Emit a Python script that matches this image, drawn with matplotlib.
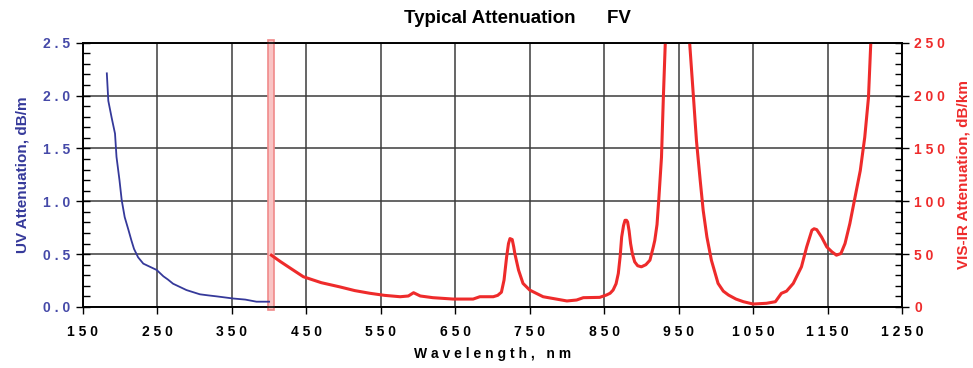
import matplotlib.pyplot as plt
from matplotlib.ticker import MultipleLocator, FixedLocator, FuncFormatter

plt.rcParams['font.family'] = ['Liberation Sans', 'DejaVu Sans']

# UV part (dB/m, left axis)
uv_wl = [182, 183, 184, 188.5, 193, 195, 199, 202, 206, 211, 215, 218.5, 224, 231,
         240, 249, 258, 264, 271, 280, 289, 298, 307, 318, 330, 352, 368, 383, 400]
uv_att = [2.21, 2.08, 1.95, 1.79, 1.64, 1.42, 1.20, 1.01, 0.85, 0.73, 0.63, 0.55, 0.47, 0.41,
          0.38, 0.35, 0.29, 0.26, 0.22, 0.19, 0.16, 0.14, 0.12, 0.11, 0.10, 0.08, 0.07, 0.05, 0.05]

# VIS-IR part (dB/km, right axis)
ir_wl = [403, 415, 430, 446, 470, 495, 515, 535, 555, 576, 587, 594, 603, 620, 647,
         674, 683, 701, 707, 712, 715.5, 719, 721.5, 723.5, 726.5, 728.5, 730, 735,
         741, 750, 768, 800, 813, 822, 844, 853, 858, 862, 866, 869, 871.5, 873.5,
         876, 878, 880, 881.5, 883.5, 885.5, 888, 891, 895, 900, 906, 911.5, 916,
         918, 921, 923, 925, 927, 929.5, 932, 934, 963, 965, 970, 974, 979, 983,
         988, 994, 1003, 1010, 1017, 1027, 1037, 1050, 1068, 1080, 1088, 1095,
         1104, 1115, 1122, 1129, 1132, 1135.5, 1142, 1149, 1156, 1162, 1168, 1173.5,
         1180, 1187, 1194, 1200, 1205, 1208, 1210]
ir_att = [49, 43, 36, 28.6, 23, 19, 15.5, 13, 11, 9.7, 10.4, 13.5, 10.4, 8.8, 7.5,
          7.5, 9.7, 9.7, 11, 14, 25.4, 47.4, 60, 64.7, 63.8, 57, 50.6, 34.9,
          22.3, 16, 9.7, 5.7, 6.6, 8.8, 9.1, 11.3, 13, 16, 22, 31.7, 48, 66.2,
          77, 82, 82, 80.4, 72, 60, 50, 42.7, 39, 38, 40, 44.3, 56.8,
          63, 78, 97.7, 119.7, 141.6, 198, 248, 275, 275, 248, 198, 157, 119.7, 91.4,
          66.2, 44.3, 22.3, 15, 11.3, 7.5, 5, 2.8, 3.5, 5, 12.9, 15,
          22.3, 38, 56.8, 72.6, 74, 73.2, 66.2, 56.8, 52.1, 49, 50.6, 60,
          78.9, 104, 129, 160.5, 198, 248, 270]

x_ticks = [150, 250, 350, 450, 550, 650, 750, 850, 950, 1050, 1150, 1250]

blue = '#35399a'
red = '#ee2b2b'


def spaced(v, fmt):
    return ' '.join(fmt.format(v))


fig = plt.figure(figsize=(9.73, 3.68), dpi=100)
ax = fig.add_axes([0.0853, 0.1658, 0.8417, 0.7182])
ax2 = ax.twinx()

ax.set_xlim(150, 1250)
ax.set_ylim(0, 2.5)
ax2.set_ylim(0, 250)

ax.xaxis.set_major_locator(FixedLocator(x_ticks))
ax.yaxis.set_major_locator(MultipleLocator(0.5))
ax.yaxis.set_minor_locator(MultipleLocator(0.1))
ax2.yaxis.set_major_locator(MultipleLocator(50))
ax2.yaxis.set_minor_locator(MultipleLocator(10))
ax.grid(True, which='major', color='#3c3c3c', linewidth=1.1)

ax.xaxis.set_major_formatter(FuncFormatter(lambda v, p: spaced(v, '{:.0f}')))
ax.yaxis.set_major_formatter(FuncFormatter(lambda v, p: spaced(v, '{:.1f}')))
ax2.yaxis.set_major_formatter(FuncFormatter(lambda v, p: spaced(v, '{:.0f}')))

ax.tick_params(axis='x', direction='out', length=5, width=1, labelsize=10, pad=8)
ax.tick_params(axis='y', which='major', direction='inout', length=10, width=1,
               labelsize=10, labelcolor='#4549a8', pad=4)
ax.tick_params(axis='y', which='minor', direction='in', length=5, width=1)
ax2.tick_params(axis='y', which='major', direction='inout', length=10, width=1,
                labelsize=10, labelcolor=red, pad=4)
ax2.tick_params(axis='y', which='minor', direction='in', length=5, width=1)
for lab in ax.get_xticklabels() + ax.get_yticklabels() + ax2.get_yticklabels():
    lab.set_fontweight('bold')

for a in (ax, ax2):
    for s in a.spines.values():
        s.set_color('black')
        s.set_linewidth(1.2)

# marker band at the UV / VIS-IR boundary
ax.axvspan(399, 406, ymin=-0.01, ymax=1.01, facecolor='#f9c4c4',
           edgecolor='#f08a8a', linewidth=1.2, clip_on=False, zorder=3)

ax.plot(uv_wl, uv_att, color=blue, linewidth=1.3, zorder=4)
ax2.plot(ir_wl, ir_att, color=red, linewidth=2.2)

ax.set_xlabel('W a v e l e n g t h ,   n m', fontsize=10, fontweight='bold', labelpad=6)
ax.set_ylabel('UV Attenuation, dB/m', fontsize=11, fontweight='bold', color=blue, labelpad=10)
ax2.set_ylabel('VIS-IR Attenuation, dB/km', fontsize=11, fontweight='bold', color=red, labelpad=8)

fig.text(0.532, 0.951, 'Typical Attenuation      FV', ha='center', va='center',
         fontsize=13.5, fontweight='bold')

fig.savefig('out.png', dpi=100)
